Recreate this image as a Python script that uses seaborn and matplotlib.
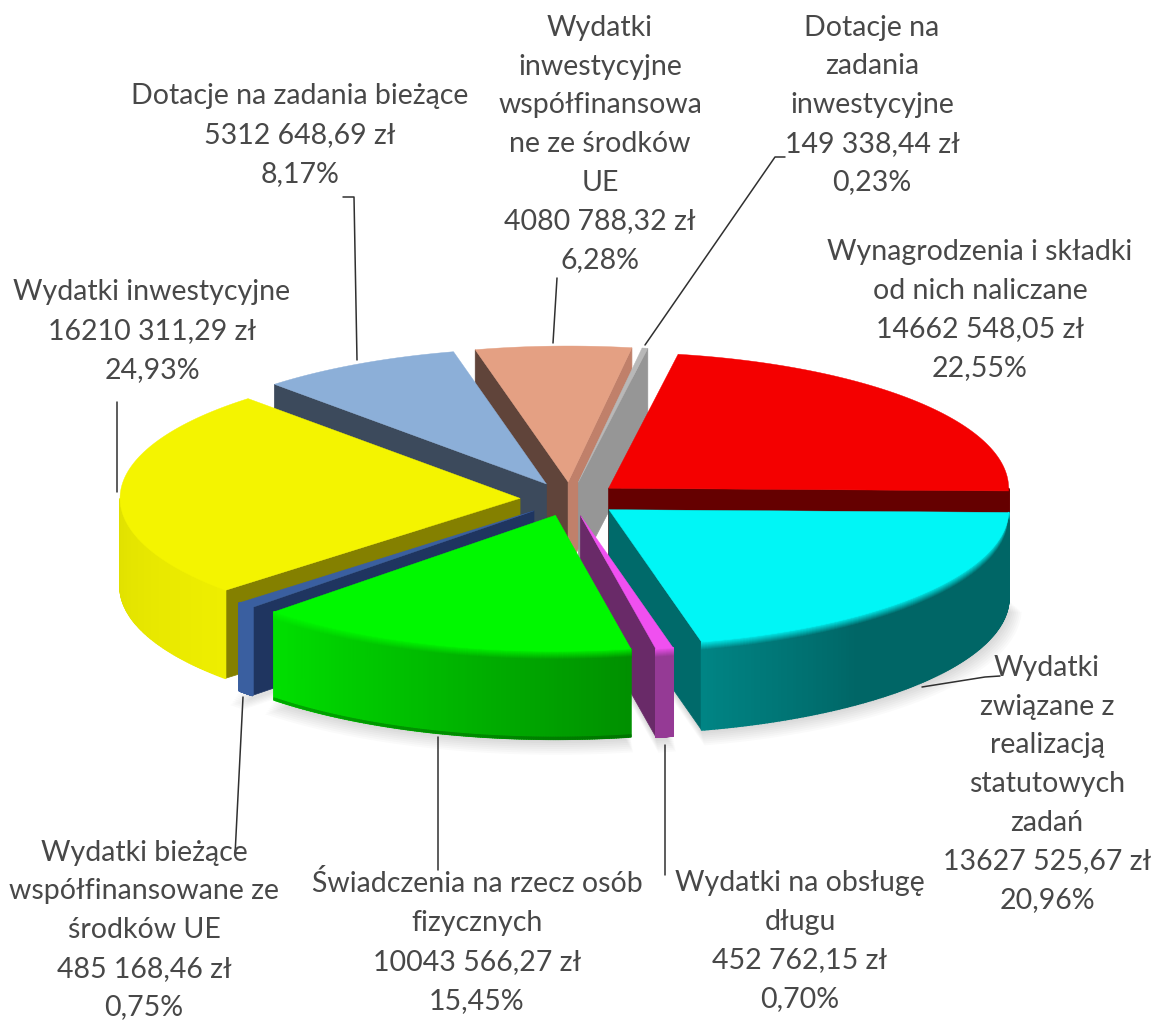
# Exploded 3D pie of budget expenditure, drawn by hand since matplotlib has no 3D pie
import numpy as np
import matplotlib
matplotlib.use("Agg")
import matplotlib.pyplot as plt
import seaborn as sns
from matplotlib.collections import PolyCollection
from matplotlib.colors import to_rgb

# --- data (clockwise from the red slice) ---
names = ['Wynagrodzenia i składki\nod nich naliczane',
         'Wydatki\nzwiązane z\nrealizacją\nstatutowych\nzadań',
         'Wydatki na obsługę\ndługu',
         'Świadczenia na rzecz osób\nfizycznych',
         'Wydatki bieżące\nwspółfinansowane ze\nśrodków UE',
         'Wydatki inwestycyjne',
         'Dotacje na zadania bieżące',
         'Wydatki\ninwestycyjne\nwspółfinansowa\nne ze środków\nUE',
         'Dotacje na\nzadania\ninwestycyjne']
amounts = ['14662 548,05 zł', '13627 525,67 zł', '452 762,15 zł',
           '10043 566,27 zł', '485 168,46 zł', '16210 311,29 zł',
           '5312 648,69 zł', '4080 788,32 zł', '149 338,44 zł']
percents = [22.55, 20.96, 0.70, 15.45, 0.75, 24.93, 8.17, 6.28, 0.23]

# --- styles ---
top_cols = ['#f40000', '#00f6f6', '#f050f0', '#00f800', '#3a5fa0',
            '#f4f400', '#8cafd8', '#e4a083', '#b8b8b8']
side_from = ['#650000', '#008484', '#953a95', '#00e000', '#3a5fa0',
             '#e0e000', '#3c4a5c', '#60443a', '#969696']
side_to = ['#650000', '#006666', '#953a95', '#009000', '#3a5fa0',
           '#eeee00', '#3c4a5c', '#60443a', '#969696']
cut_start = [None, None, None, None, '#1f3560', '#848000', '#3c4a5c', '#60443a', None]
cut_end = ['#650000', '#006a6a', '#692a68', None, None, None, None, '#c0806a', '#969696']
draw_order = [7, 8, 6, 0, 5, 1, 4, 2, 3]
bevelled = [1, 2, 3]
shadowed = [1, 2, 3, 4]

# label anchors (centre of each text block, pixels) and leader lines
label_pos = [(980, 310), (1047, 784), (800, 941), (477, 942), (144, 930),
             (152, 331), (300, 135), (600, 144), (872, 105)]
leaders = [None,
           [(1000, 676), (985, 677), (922, 687)],
           [(665, 745), (665, 875)],
           [(438, 737), (438, 870)],
           [(243, 697), (235, 855)],
           [(117, 402), (117, 492)],
           [(343, 197), (354, 197), (357, 360)],
           [(557, 278), (553, 343)],
           [(785, 157), (775, 157), (645, 345)]]

# --- pie geometry in pixels ---
CX, CY = 570, 499
RX, RY = 400, 136
EXPLODE = 50
DEPTH = 88
START = 80.0

sns.set_theme(style="white")
plt.rcParams['font.family'] = ['Lato', 'DejaVu Sans']

fig = plt.figure(figsize=(11.53, 10.23), dpi=100)
ax = fig.add_axes([0, 0, 1, 1])
ax.set_xlim(0, 1153)
ax.set_ylim(1023, 0)
ax.axis('off')

sweeps = np.array(percents) / sum(percents) * 360
ends = START - np.cumsum(sweeps)
starts = ends + sweeps


def rim(tip, deg):
    t = np.radians(deg)
    return np.column_stack([tip[0] + RX * np.cos(t), tip[1] - RY * np.sin(t)])


def mix(c1, c2, k):
    c1, c2 = np.array(to_rgb(c1)), np.array(to_rgb(c2))
    return tuple(c1 + (c2 - c1) * k)


tips = []
for s, e in zip(starts, ends):
    m = np.radians((s + e) / 2)
    tips.append((CX + EXPLODE * np.cos(m), CY - EXPLODE * RY / RX * np.sin(m)))

# soft shadow below the front slices
for i in shadowed:
    arc = rim(tips[i], np.linspace(starts[i], ends[i], 80))
    poly = np.vstack([tips[i], arc]) + [0, DEPTH]
    for k in range(1, 9):
        grown = (poly - tips[i] - [0, DEPTH]) * (1 + k * 0.004) + tips[i] + [0, DEPTH + k * 1.4]
        ax.fill(grown[:, 0], grown[:, 1], color='black', alpha=0.02, lw=0, zorder=1)

z = 2
for i in draw_order:
    tip = tips[i]
    # flat faces left by the cut
    for col, deg in ((cut_start[i], starts[i]), (cut_end[i], ends[i])):
        if col is None:
            continue
        p = rim(tip, np.array([deg]))[0]
        ax.fill([tip[0], p[0], p[0], tip[0]], [tip[1], p[1], p[1] + DEPTH, tip[1] + DEPTH],
                color=col, lw=0.5, zorder=z)
        z += 1

    # curved outer wall, only the part turned towards the viewer
    degs = np.linspace(starts[i], ends[i], 160)
    degs = degs[np.sin(np.radians(degs)) < 0.0]
    if len(degs) > 1:
        p = rim(tip, degs)
        p = p[np.argsort(p[:, 0])]
        steps = [side_from[i], side_to[i]]
        if i == 1:  # teal settles to its dark tone early
            steps = [side_from[i], side_to[i], side_to[i], side_to[i]]
        grad = sns.blend_palette(steps, len(p) - 1)
        wall, wall_cols = [], []
        band, band_cols = [], []
        bev = 9 if i in bevelled else 0
        for j in range(len(p) - 1):
            a, b = p[j], p[j + 1]
            wall.append([a, b, b + [0, DEPTH], a + [0, DEPTH]])
            wall_cols.append(grad[j])
            for n in range(bev):
                band.append([a + [0, n], b + [0, n], b + [0, n + 1], a + [0, n + 1]])
                band_cols.append(mix(top_cols[i], grad[j], (n + 1) / bev))
            if i == 3:  # green has a dark lip along its foot
                band.append([a + [0, DEPTH - 2], b + [0, DEPTH - 2], b + [0, DEPTH], a + [0, DEPTH]])
                band_cols.append(mix(grad[j], '#004000', 0.35))
        ax.add_collection(PolyCollection(wall, facecolors=wall_cols, edgecolors=wall_cols,
                                         linewidths=1.2, zorder=z))
        z += 1
        if band:
            ax.add_collection(PolyCollection(band, facecolors=band_cols, edgecolors=band_cols,
                                             linewidths=0.8, zorder=z))
            z += 1

    # top face
    arc = rim(tip, np.linspace(starts[i], ends[i], 120))
    poly = np.vstack([tip, arc])
    ax.fill(poly[:, 0], poly[:, 1], color=top_cols[i], lw=0.3, zorder=z)
    z += 1

# leader lines
for pts in leaders:
    if pts is None:
        continue
    pts = np.array(pts)
    ax.plot(pts[:, 0], pts[:, 1], color='#303030', lw=1.1, zorder=z)

# labels
for name, amount, pct, pos in zip(names, amounts, percents, label_pos):
    label = f"{name}\n{amount}\n{pct:.2f}%".replace('.', ',')
    ax.text(pos[0], pos[1], label, ha='center', va='center', ma='center',
            fontsize=20.5, color='#484848', linespacing=1.605, zorder=z + 1)

fig.savefig('out.png', dpi=100)
